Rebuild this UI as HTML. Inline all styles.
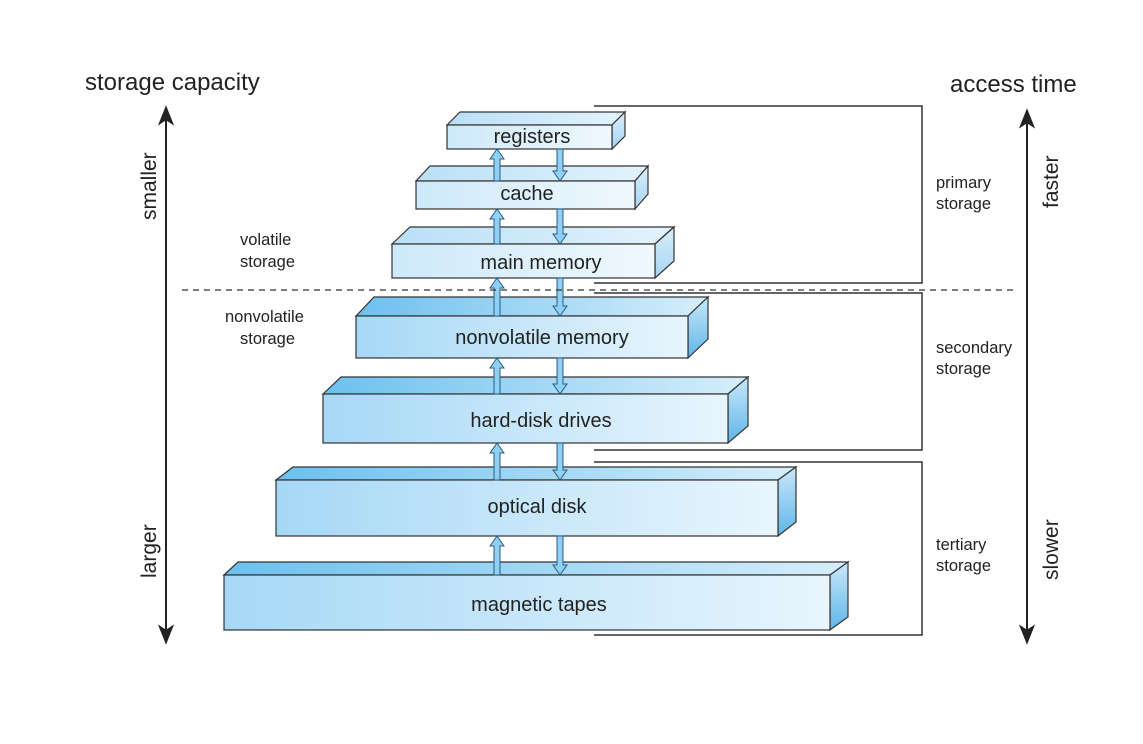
<!DOCTYPE html>
<html><head><meta charset="utf-8"><style>
html,body{margin:0;padding:0;background:#fff;}
svg{display:block;}
text{font-family:"Liberation Sans",sans-serif;fill:#222;}
</style></head><body>
<svg width="1143" height="744" viewBox="0 0 1143 744" xmlns="http://www.w3.org/2000/svg">
<defs>
<linearGradient id="f1" x1="0" y1="0" x2="1" y2="0"><stop offset="0" stop-color="#cde9f9"/><stop offset="1" stop-color="#f0f8fd"/></linearGradient>
<linearGradient id="f2" x1="0" y1="0" x2="1" y2="0"><stop offset="0" stop-color="#a6d8f6"/><stop offset="1" stop-color="#e8f5fd"/></linearGradient>
<linearGradient id="t1" x1="0" y1="0" x2="1" y2="0"><stop offset="0" stop-color="#b9e0f7"/><stop offset="1" stop-color="#e3f3fc"/></linearGradient>
<linearGradient id="t2" x1="0" y1="0" x2="1" y2="0"><stop offset="0" stop-color="#6cc0ee"/><stop offset="1" stop-color="#d6eefb"/></linearGradient>
<linearGradient id="s1" x1="0" y1="0" x2="0" y2="1"><stop offset="0" stop-color="#d8eefb"/><stop offset="1" stop-color="#a7d6f3"/></linearGradient>
<linearGradient id="s2" x1="0" y1="0" x2="0" y2="1"><stop offset="0" stop-color="#c8e8fa"/><stop offset="1" stop-color="#5fb6e8"/></linearGradient>
</defs>

<g stroke="#333" stroke-width="1.2">
<polygon points="447,125 460,112 625,112 612,125" fill="url(#t1)"/>
<polygon points="612,125 625,112 625,136 612,149" fill="url(#s1)"/>
<rect x="447" y="125" width="165" height="24" fill="url(#f1)"/>
<polygon points="416,181 430,166 648,166 635,181" fill="url(#t1)"/>
<polygon points="635,181 648,166 648,194 635,209" fill="url(#s1)"/>
<rect x="416" y="181" width="219" height="28" fill="url(#f1)"/>
<polygon points="392,244 410,227 674,227 655,244" fill="url(#t1)"/>
<polygon points="655,244 674,227 674,261 655,278" fill="url(#s1)"/>
<rect x="392" y="244" width="263" height="34" fill="url(#f1)"/>
<polygon points="356,316 374,297 708,297 688,316" fill="url(#t2)"/>
<polygon points="688,316 708,297 708,339 688,358" fill="url(#s2)"/>
<rect x="356" y="316" width="332" height="42" fill="url(#f2)"/>
<polygon points="323,394 341,377 748,377 728,394" fill="url(#t2)"/>
<polygon points="728,394 748,377 748,426 728,443" fill="url(#s2)"/>
<rect x="323" y="394" width="405" height="49" fill="url(#f2)"/>
<polygon points="276,480 293,467 796,467 778,480" fill="url(#t2)"/>
<polygon points="778,480 796,467 796,522 778,536" fill="url(#s2)"/>
<rect x="276" y="480" width="502" height="56" fill="url(#f2)"/>
<polygon points="224,575 238,562 848,562 830,575" fill="url(#t2)"/>
<polygon points="830,575 848,562 848,617 830,630" fill="url(#s2)"/>
<rect x="224" y="575" width="606" height="55" fill="url(#f2)"/>
</g>

<g fill="#8fd0f4" stroke="#2a5c80" stroke-width="1">
<path d="M497,149 l7,10 h-4 v22 h-6 v-22 h-4 z"/>
<path d="M497,209 l7,10 h-4 v25 h-6 v-25 h-4 z"/>
<path d="M497,278 l7,10 h-4 v28 h-6 v-28 h-4 z"/>
<path d="M497,358 l7,10 h-4 v26 h-6 v-26 h-4 z"/>
<path d="M497,443 l7,10 h-4 v27 h-6 v-27 h-4 z"/>
<path d="M497,536 l7,10 h-4 v29 h-6 v-29 h-4 z"/>
<path d="M557,149 h6 v22 h4 l-7,10 l-7,-10 h4 z"/>
<path d="M557,209 h6 v25 h4 l-7,10 l-7,-10 h4 z"/>
<path d="M557,278 h6 v28 h4 l-7,10 l-7,-10 h4 z"/>
<path d="M557,358 h6 v26 h4 l-7,10 l-7,-10 h4 z"/>
<path d="M557,443 h6 v27 h4 l-7,10 l-7,-10 h4 z"/>
<path d="M557,536 h6 v29 h4 l-7,10 l-7,-10 h4 z"/>
</g>

<g font-size="20" text-anchor="middle">
<text x="532" y="143">registers</text>
<text x="527" y="200">cache</text>
<text x="541" y="269">main memory</text>
<text x="542" y="344">nonvolatile memory</text>
<text x="541" y="427">hard-disk drives</text>
<text x="537" y="513">optical disk</text>
<text x="539" y="611">magnetic tapes</text>
</g>

<line x1="182" y1="290" x2="1015" y2="290" stroke="#333" stroke-width="1.2" stroke-dasharray="6,5"/>

<g fill="none" stroke="#333" stroke-width="1.5">
<polyline points="594,106 922,106 922,283 594,283"/>
<polyline points="594,293 922,293 922,450 594,450"/>
<polyline points="594,462 922,462 922,635 594,635"/>
</g>
<g font-size="16.5">
<text x="936" y="188">primary</text><text x="936" y="209">storage</text>
<text x="936" y="353">secondary</text><text x="936" y="374">storage</text>
<text x="936" y="550">tertiary</text><text x="936" y="571">storage</text>
<text x="240" y="245">volatile</text><text x="240" y="267">storage</text>
<text x="225" y="322">nonvolatile</text><text x="240" y="344">storage</text>
</g>

<g stroke="#222" stroke-width="2" fill="#222">
<line x1="166" y1="118" x2="166" y2="632"/>
<path d="M166,108 l-6,15 l6,-4 l6,4 z"/>
<path d="M166,642 l-6,-15 l6,4 l6,-4 z"/>
<line x1="1027" y1="121" x2="1027" y2="632"/>
<path d="M1027,111 l-6,15 l6,-4 l6,4 z"/>
<path d="M1027,642 l-6,-15 l6,4 l6,-4 z"/>
</g>

<text x="85" y="90" font-size="24">storage capacity</text>
<text x="950" y="92" font-size="24">access time</text>
<text transform="translate(156,220) rotate(-90)" font-size="21">smaller</text>
<text transform="translate(156,578) rotate(-90)" font-size="21">larger</text>
<text transform="translate(1058,208) rotate(-90)" font-size="21">faster</text>
<text transform="translate(1058,580) rotate(-90)" font-size="21">slower</text>
</svg>
</body></html>
